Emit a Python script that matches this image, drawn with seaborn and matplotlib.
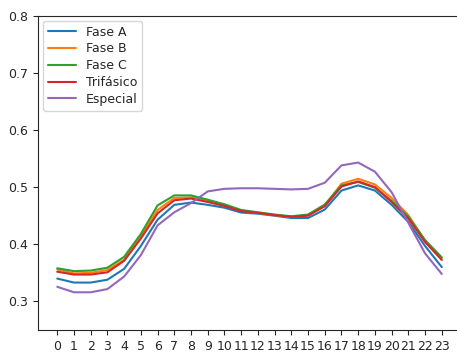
import pandas as pd
import matplotlib
matplotlib.use("Agg")
import matplotlib.pyplot as plt
import seaborn as sns

# Hourly load profile per phase
hours = list(range(24))
fase_a = [0.340, 0.333, 0.333, 0.338, 0.357, 0.397, 0.443, 0.469, 0.473, 0.469, 0.464,
          0.4555, 0.4535, 0.450, 0.446, 0.446, 0.4607, 0.494, 0.503, 0.494, 0.469,
          0.439, 0.397, 0.360]
fase_b = [0.356, 0.349, 0.350, 0.355, 0.373, 0.414, 0.460, 0.481, 0.482, 0.476, 0.468,
          0.459, 0.455, 0.451, 0.448, 0.451, 0.468, 0.506, 0.5146, 0.5047, 0.481,
          0.451, 0.406, 0.376]
fase_c = [0.358, 0.353, 0.354, 0.359, 0.378, 0.418, 0.468, 0.4855, 0.4855, 0.478, 0.470,
          0.460, 0.456, 0.452, 0.449, 0.452, 0.4695, 0.503, 0.509, 0.499, 0.476,
          0.448, 0.4073, 0.377]
trifasico = [0.352, 0.347, 0.347, 0.351, 0.371, 0.410, 0.454, 0.477, 0.480, 0.474, 0.467,
             0.458, 0.455, 0.451, 0.448, 0.450, 0.4665, 0.501, 0.510, 0.500, 0.474,
             0.445, 0.404, 0.3725]
especial = [0.3256, 0.316, 0.316, 0.3216, 0.3435, 0.381, 0.433, 0.456, 0.472, 0.4925, 0.497,
            0.498, 0.498, 0.497, 0.496, 0.497, 0.5077, 0.538, 0.543, 0.527, 0.491,
            0.4375, 0.384, 0.348]
series_names = ["Fase A", "Fase B", "Fase C", "Trifásico", "Especial"]

sns.set_style("ticks")
plt.rcParams["font.size"] = 9

df = pd.DataFrame({"Hora": hours, "Fase A": fase_a, "Fase B": fase_b, "Fase C": fase_c,
                   "Trifásico": trifasico, "Especial": especial})
long_df = df.melt(id_vars="Hora", var_name="Serie", value_name="Valor")

fig = plt.figure(figsize=(4.57, 3.52), dpi=100)
ax = fig.add_axes([0.0832, 0.0625, 0.9256, 0.893])
sns.lineplot(data=long_df, x="Hora", y="Valor", hue="Serie", hue_order=series_names,
             palette="tab10", linewidth=1.5, ax=ax)

ax.set_xticks(hours)
ax.set_xlim(-1.15, 24.15)
ax.set_ylim(0.25, 0.8)
ax.set_yticks([0.3, 0.4, 0.5, 0.6, 0.7, 0.8])
ax.set_xlabel("")
ax.set_ylabel("")
ax.tick_params(labelsize=9)
ax.spines["right"].set_visible(False)  # cut off in the original
ax.legend(loc="upper left", fontsize=9, title=None, labelspacing=0.3,
          handlelength=2.2, borderaxespad=0.4)

fig.savefig("out.png", dpi=100)
